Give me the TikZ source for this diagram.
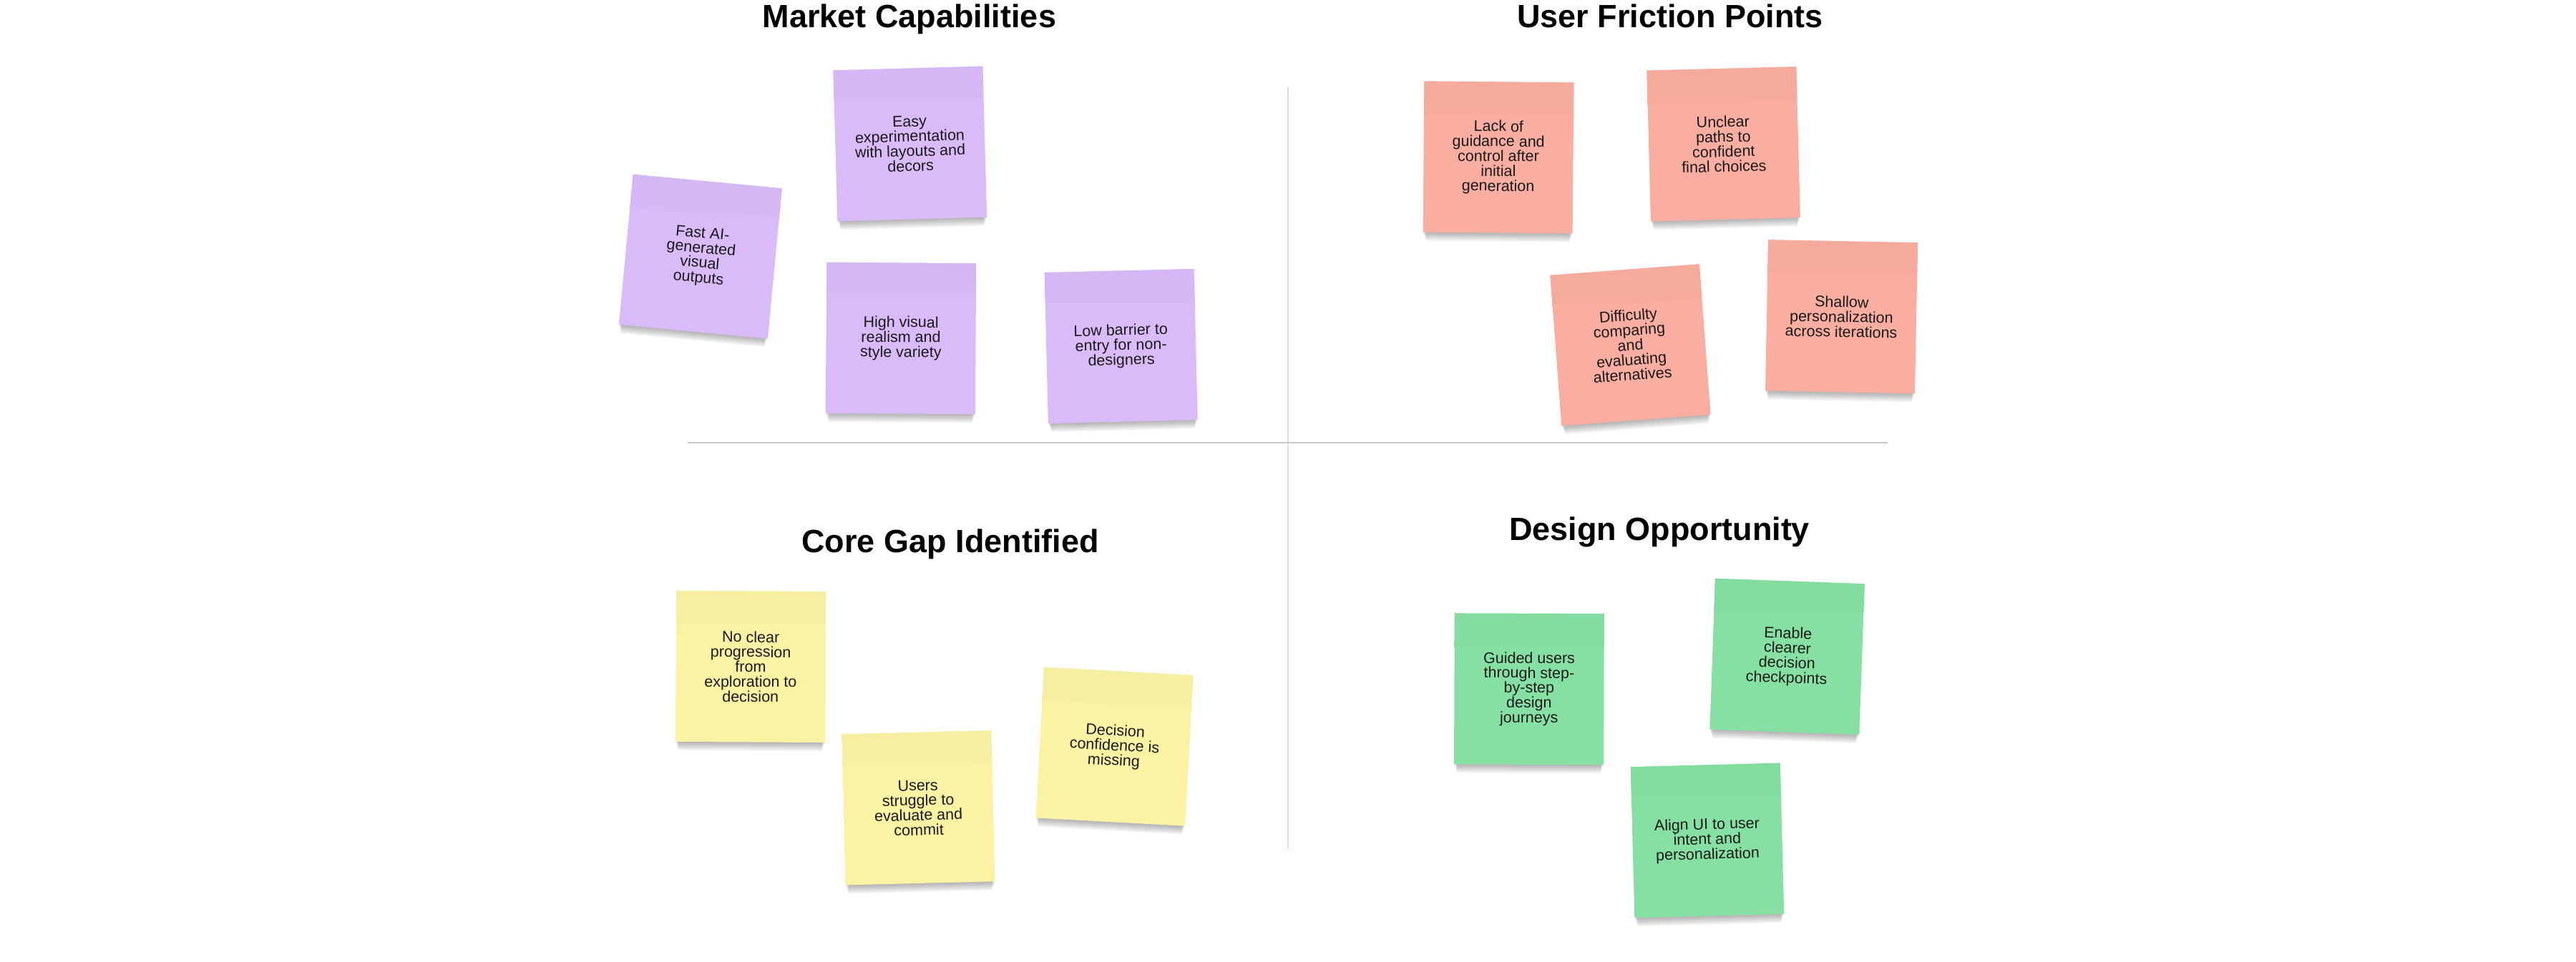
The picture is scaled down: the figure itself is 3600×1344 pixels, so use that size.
\documentclass[tikz,border=0pt]{standalone}
\usepackage{fontspec}
\setmainfont{Liberation Sans}
\definecolor{notepurple}{RGB}{217,187,250}
\definecolor{notered}{RGB}{250,173,161}
\definecolor{noteyellow}{RGB}{251,243,163}
\definecolor{notegreen}{RGB}{134,224,163}
\definecolor{vline}{RGB}{221,221,221}
\definecolor{hline}{RGB}{200,200,200}
\definecolor{notetext}{RGB}{26,26,26}
\tikzset{
  stickybox/.style={draw=none, minimum width=209pt, minimum height=211pt, inner sep=0pt,
    align=center, text=notetext, font=\fontsize{21.5}{20.8}\selectfont, transform shape},
  titletext/.style={anchor=base, font=\fontsize{45}{50}\selectfont\bfseries, text=black},
  divider/.style={line width=2pt}
}
\newcommand\mysticky[6]{%
  \begin{scope}[shift={(#2,#3)}, rotate=#4]
    \foreach \k in {2,4,...,12} {
      \fill[black, opacity=0.05] (-104.5+\k*0.35,-80) rectangle (104.5-\k*0.35,105.5+\k);
    }
    \fill[#5] (-104.5,-105.5) rectangle (104.5,105.5);
    \fill[#5!98!black] (-104.5,-105.5) rectangle (104.5,-66);
    \shade[top color=#5!98!black, bottom color=#5] (-104.5,-66.2) rectangle (104.5,-58);
    \node[stickybox] (#1) at (0,0) {#6};
  \end{scope}}
\begin{document}
\begin{tikzpicture}[x=1pt, y=-1pt]
\useasboundingbox[fill=white] (0,0) rectangle (3600,1344);

% dividers
\coordinate (vtop) at (1800,122);
\coordinate (vbot) at (1800,1187);
\coordinate (hleft) at (961,619);
\coordinate (hright) at (2638,619);
\draw[divider, vline] (vtop) -- (vbot);
\draw[divider, hline] (hleft) -- (hright);

% titles
\node[titletext] (t1) at (1271,38) {Market Capabilities};
\node[titletext] (t2) at (2334,38) {User Friction Points};
\node[titletext] (t3) at (1328,772) {Core Gap Identified};
\node[titletext] (t4) at (2319,755) {Design Opportunity};

% Market Capabilities
\mysticky{mc1}{978.8}{358.6}{-5.4}{notepurple}{Fast AI-\\generated\\visual\\outputs}
\mysticky{mc2}{1271.8}{201}{1.6}{notepurple}{Easy\\experimentation\\with layouts and\\decors}
\mysticky{mc3}{1259}{473}{-0.4}{notepurple}{High visual\\realism and\\style variety}
\mysticky{mc4}{1566.7}{484}{1.4}{notepurple}{Low barrier to\\entry for non-\\designers}

% User Friction Points
\mysticky{uf1}{2094}{220}{-0.5}{notered}{Lack of\\guidance and\\control after\\initial\\generation}
\mysticky{uf2}{2408.6}{201.4}{1.5}{notered}{Unclear\\paths to\\confident\\final choices}
\mysticky{uf3}{2278.5}{482.3}{4.3}{notered}{Difficulty\\comparing\\and\\evaluating\\alternatives}
\mysticky{uf4}{2573.5}{442.8}{-1.1}{notered}{Shallow\\personalization\\across iterations}

% Core Gap Identified
\mysticky{cg1}{1049}{932}{-0.3}{noteyellow}{No clear\\progression\\from\\exploration to\\decision}
\mysticky{cg2}{1283.4}{1129.4}{1.4}{noteyellow}{Users\\struggle to\\evaluate and\\commit}
\mysticky{cg3}{1557.5}{1043.8}{-3.1}{noteyellow}{Decision\\confidence is\\missing}

% Design Opportunity
\mysticky{do1}{2136.9}{963.3}{-0.2}{notegreen}{Guided users\\through step-\\by-step\\design\\journeys}
\mysticky{do2}{2497.6}{918}{-2.05}{notegreen}{Enable\\clearer\\decision\\checkpoints}
\mysticky{do3}{2386}{1175}{1.5}{notegreen}{Align UI to user\\intent and\\personalization}
\end{tikzpicture}
\end{document}
